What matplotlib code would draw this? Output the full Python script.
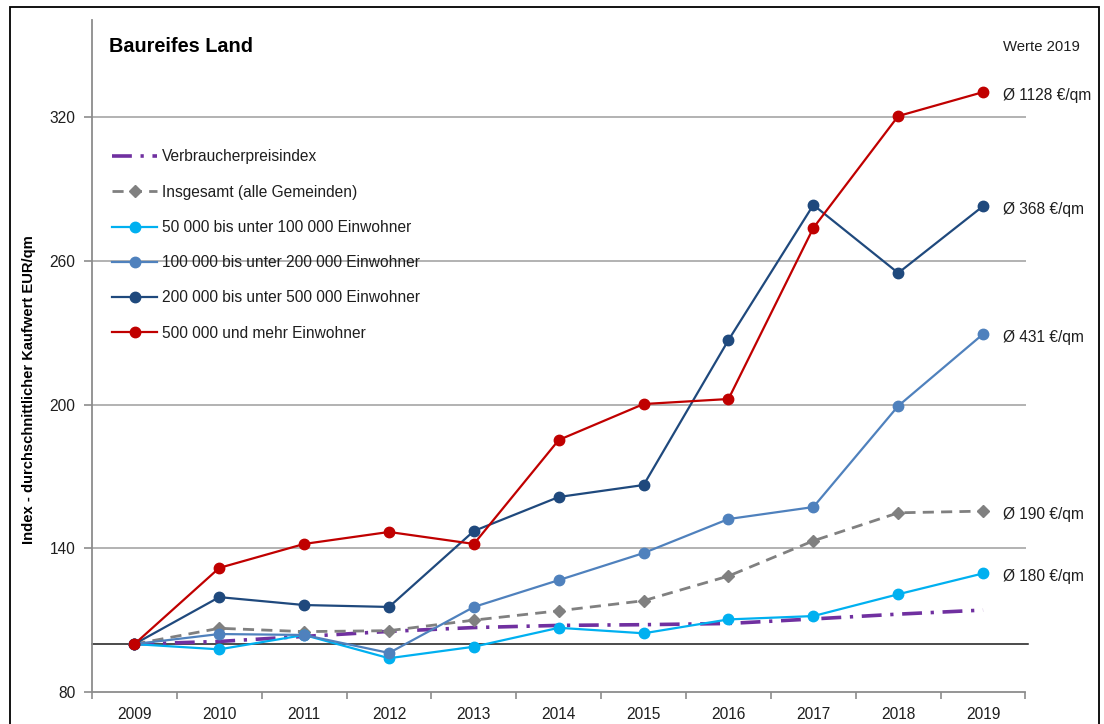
import matplotlib
matplotlib.use("Agg")
import matplotlib.pyplot as plt
from matplotlib.patches import Rectangle
from matplotlib.ticker import FixedLocator

plt.rcParams['font.family'] = ['Liberation Sans', 'DejaVu Sans']

years = [2009, 2010, 2011, 2012, 2013, 2014, 2015, 2016, 2017, 2018, 2019]
cpi = [100, 101.1, 103.2, 105.3, 106.9, 107.8, 108.1, 108.6, 110.5, 112.5, 114.2]
gesamt = [100, 106.6, 105.2, 105.6, 110.0, 113.9, 118.1, 128.4, 143.1, 154.8, 155.5]
ew_50_100 = [100, 97.8, 103.8, 94.1, 98.9, 106.8, 104.5, 110.3, 111.7, 120.8, 129.5]
ew_100_200 = [100, 104.2, 103.8, 96.3, 115.5, 126.7, 138.0, 152.2, 157.2, 199.4, 229.4]
ew_200_500 = [100, 119.6, 116.3, 115.5, 147.2, 161.4, 166.4, 226.9, 283.3, 254.9, 282.8]
ew_500 = [100, 131.8, 141.8, 146.8, 141.8, 185.2, 200.2, 202.3, 273.7, 320.4, 330.4]

labels = ["Verbraucherpreisindex", "Insgesamt (alle Gemeinden)",
          "50 000 bis unter 100 000 Einwohner", "100 000 bis unter 200 000 Einwohner",
          "200 000 bis unter 500 000 Einwohner", "500 000 und mehr Einwohner"]
werte_2019 = ["Ø 1128 €/qm", "Ø 368 €/qm", "Ø 431 €/qm", "Ø 190 €/qm", "Ø 180 €/qm"]
werte_series = [ew_500, ew_200_500, ew_100_200, gesamt, ew_50_100]
yticks = [80, 140, 200, 260, 320]

W, H = 1104, 724
fig = plt.figure(figsize=(W / 100, H / 100), dpi=100)
ax = fig.add_axes([92 / W, 1 - 692 / H, (1025.5 - 92) / W, (692 - 20) / H])

txt_color = '#1e1e1e'
grid_color = '#a6a6a6'
fs = 11.2

# outer frame
fig.patches.append(Rectangle((10 / W, -0.02), (1099 - 10) / W, 1 - 7 / H + 0.02,
                             transform=fig.transFigure, fill=False, ec='black', lw=1.3))

ax.set_xlim(2008.5, 2019.5)
ax.set_ylim(80, 360.5)
for v in yticks[1:]:
    ax.axhline(v, color=grid_color, lw=1.2, zorder=1)
ax.axhline(100, color='#1a1a1a', lw=1.1, zorder=1.5, xmax=1.003, clip_on=False)

ax.plot(years, cpi, color='#7030A0', lw=2.6, dashes=(5.5, 2.4, 0.9, 2.4),
        label=labels[0], zorder=3, solid_capstyle='butt', dash_capstyle='butt')
ax.plot(years, gesamt, color='#808080', lw=2.0, dashes=(4.0, 2.6), marker='D',
        markersize=6, label=labels[1], zorder=3)
ax.plot(years, ew_50_100, color='#00B0F0', lw=1.6, marker='o', markersize=7.5,
        label=labels[2], zorder=4)
ax.plot(years, ew_100_200, color='#4F81BD', lw=1.6, marker='o', markersize=7.5,
        label=labels[3], zorder=4)
ax.plot(years, ew_200_500, color='#1F497D', lw=1.6, marker='o', markersize=7.5,
        label=labels[4], zorder=4)
ax.plot(years, ew_500, color='#C00000', lw=1.6, marker='o', markersize=7.5,
        label=labels[5], zorder=5)

# axes styling
for s in ['top', 'right']:
    ax.spines[s].set_visible(False)
for s in ['left', 'bottom']:
    ax.spines[s].set_color('#8c8c8c')
    ax.spines[s].set_linewidth(1.3)
ax.set_yticks(yticks)
ax.set_yticklabels([str(v) for v in yticks])
ax.set_xticks(years)
ax.set_xticklabels([str(y) for y in years])
ax.xaxis.set_minor_locator(FixedLocator([y + 0.5 for y in range(2008, 2020)]))
ax.tick_params(axis='x', which='major', length=0, pad=11, labelsize=fs, labelcolor=txt_color)
ax.tick_params(axis='x', which='minor', length=5, width=1.2, color='#8c8c8c')
ax.tick_params(axis='y', which='major', length=6, width=1.2, color='#8c8c8c', pad=6,
               labelsize=fs, labelcolor=txt_color)

leg = ax.legend(loc='upper left', bbox_to_anchor=((112 - 92) / (1025.5 - 92), 1 - (149.5 - 20) / (692 - 20)),
                frameon=False, fontsize=fs, handlelength=2.9, handletextpad=0.32,
                labelspacing=1.3, borderaxespad=0, borderpad=0)
for t in leg.get_texts():
    t.set_color(txt_color)

fig.text(109 / W, 1 - 46 / H, "Baureifes Land", fontsize=14.3,
         fontweight='bold', va='center', ha='left', color='black')
fig.text(1003 / W, 1 - 47 / H, "Werte 2019", fontsize=10.7, va='center', ha='left', color=txt_color)
for lab, ser in zip(werte_2019, werte_series):
    ax.annotate(lab, xy=(years[-1], ser[-1]), xytext=(14, -2.3), textcoords='offset points',
                fontsize=fs, va='center', ha='left', color=txt_color, annotation_clip=False)

fig.text(29 / W, 1 - 390 / H, "Index - durchschnittlicher Kaufwert EUR/qm", rotation=90,
         fontsize=10.6, fontweight='bold', va='center', ha='center', color='black')

fig.savefig("out.png", dpi=100)
